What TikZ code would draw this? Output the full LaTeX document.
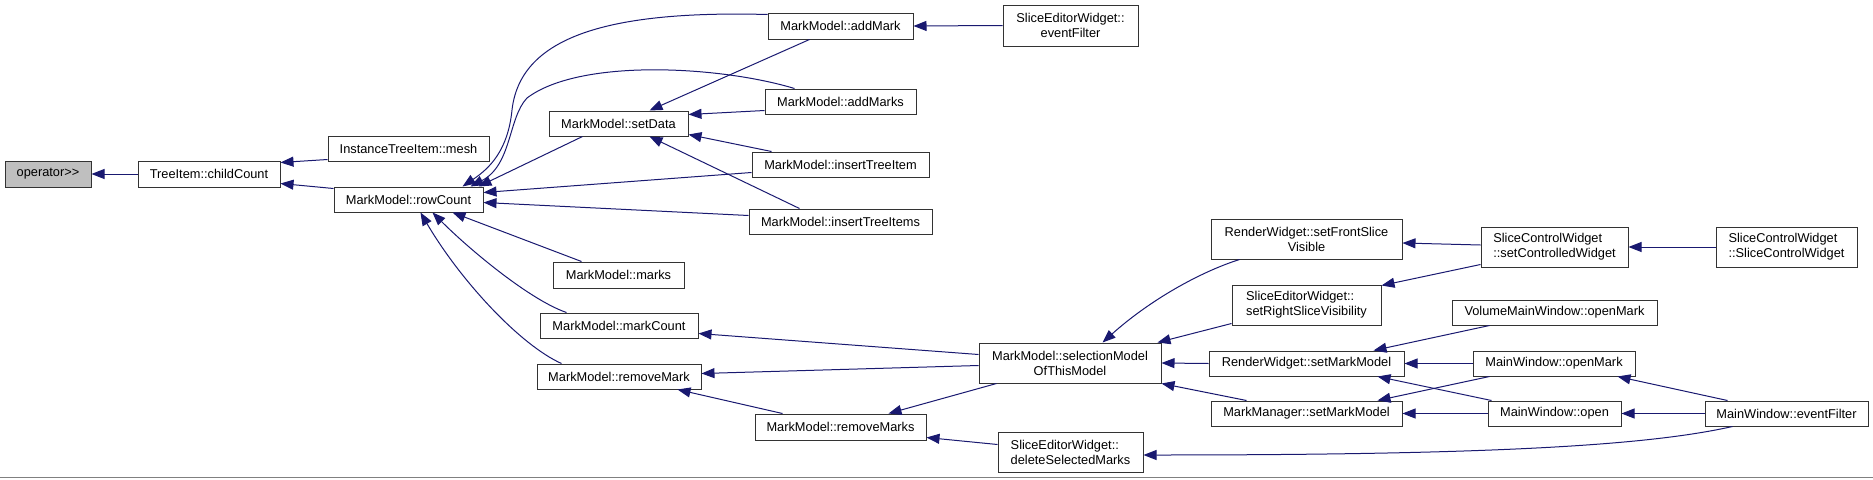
\documentclass[tikz,border=0pt]{standalone}
\usepackage{fontspec}
\setmainfont{Liberation Sans}
\usetikzlibrary{arrows.meta,calc}
\definecolor{midnight}{HTML}{191970}
\definecolor{opfill}{HTML}{BFBFBF}
\tikzset{
  box/.style={draw=black!80, line width=1pt, fill=white, inner sep=0pt, font=\fontsize{12.8}{15}\selectfont, text=black},
  conn/.style={draw=midnight, line width=1pt, -{Triangle[length=13pt,width=10pt]}, fill=none}
}
\begin{document}
\begin{tikzpicture}[x=1pt,y=-1pt]
\useasboundingbox (0,0) rectangle (1873,479);
% nodes
\node[box, fill=opfill, minimum width=86pt, minimum height=26pt] (op) at (48,174) {operator>{}>};
\node[box, minimum width=142pt, minimum height=26pt] (child) at (209,174) {TreeItem::childCount};
\node[box, minimum width=161pt, minimum height=25pt] (mesh) at (408.5,148.5) {InstanceTreeItem::mesh};
\node[box, minimum width=149pt, minimum height=25pt] (row) at (408.5,199.5) {MarkModel::rowCount};
\node[box, minimum width=145pt, minimum height=26pt] (addMark) at (840.5,26) {MarkModel::addMark};
\node[box, align=center, minimum width=135pt, minimum height=41pt] (sewEF) at (1070.5,25.5) {SliceEditorWidget::\\eventFilter};
\node[box, minimum width=151pt, minimum height=25pt] (addMarks) at (840.5,101.5) {MarkModel::addMarks};
\node[box, minimum width=139pt, minimum height=25pt] (setData) at (618.5,123.5) {MarkModel::setData};
\node[box, minimum width=177pt, minimum height=25pt] (insItem) at (840.5,164.5) {MarkModel::insertTreeItem};
\node[box, minimum width=183pt, minimum height=25pt] (insItems) at (840.5,221.5) {MarkModel::insertTreeItems};
\node[box, minimum width=131pt, minimum height=26pt] (marks) at (618.5,275) {MarkModel::marks};
\node[box, minimum width=158pt, minimum height=25pt] (markCount) at (619,325.5) {MarkModel::markCount};
\node[box, minimum width=164pt, minimum height=25pt] (removeMark) at (619,376.5) {MarkModel::removeMark};
\node[box, minimum width=171pt, minimum height=26pt] (removeMarks) at (840.5,427) {MarkModel::removeMarks};
\node[box, align=center, minimum width=182pt, minimum height=40pt] (sel) at (1070,363) {MarkModel::selectionModel\\OfThisModel};
\node[box, align=center, minimum width=191pt, minimum height=40pt] (front) at (1306.5,239) {RenderWidget::setFrontSlice\\Visible};
\node[box, align=left, minimum width=149pt, minimum height=40pt] (right) at (1306.5,305) {SliceEditorWidget::\\setRightSliceVisibility};
\node[box, minimum width=195pt, minimum height=25pt] (rwSMM) at (1306.5,363.5) {RenderWidget::setMarkModel};
\node[box, minimum width=191pt, minimum height=25pt] (mmSMM) at (1306.5,413.5) {MarkManager::setMarkModel};
\node[box, align=left, minimum width=145pt, minimum height=40pt] (del) at (1070.5,452) {SliceEditorWidget::\\deleteSelectedMarks};
\node[box, align=left, minimum width=147pt, minimum height=40pt] (ctrl) at (1554.5,247) {SliceControlWidget\\::setControlledWidget};
\node[box, align=left, minimum width=141pt, minimum height=40pt] (scw) at (1786.5,247) {SliceControlWidget\\::SliceControlWidget};
\node[box, minimum width=205pt, minimum height=25pt] (vmwOM) at (1554.5,312.5) {VolumeMainWindow::openMark};
\node[box, minimum width=162pt, minimum height=25pt] (mwOM) at (1554,363.5) {MainWindow::openMark};
\node[box, minimum width=133pt, minimum height=25pt] (mwOpen) at (1554.5,413.5) {MainWindow::open};
\node[box, minimum width=163pt, minimum height=25pt] (mwEF) at (1786.5,413.5) {MainWindow::eventFilter};
% connectors
\draw[conn] (child.west) -- (op.east);
\draw[conn] ($(mesh.south west)+(0,-2)$) -- ($(child.north east)+(0,2)$);
\draw[conn] ($(row.north west)+(0,2)$) -- ($(child.south east)+(0,-4)$);
\draw[conn] ($(addMark.north west)+(0,2)$) .. controls (600,10) and (520,40) .. (512,110) .. controls (508,150) and (490,168) .. ($(row.north east)+(-21,0)$);
\draw[conn] ($(addMarks.north west)+(30,0)$) .. controls (720,66) and (580,58) .. (527,98) .. controls (508,118) and (512,165) .. ($(row.north east)+(-13,0)$);
\draw[conn] ($(setData.south west)+(34,0)$) -- ($(row.north east)+(-5,0)$);
\draw[conn] ($(insItem.south west)+(0,-5)$) -- ($(row.north east)+(0,6)$);
\draw[conn] ($(insItems.north west)+(0,7)$) -- ($(row.south east)+(0,-10)$);
\draw[conn] ($(marks.north west)+(29,0)$) -- ($(row.south east)+(-31,0)$);
\draw[conn] ($(markCount.north west)+(27,0)$) .. controls (530,300) and (470,250) .. ($(row.south east)+(-51,0)$);
\draw[conn] ($(removeMark.north west)+(25,0)$) .. controls (520,345) and (460,280) .. ($(row.south east)+(-63,0)$);
\draw[conn] ($(addMark.south west)+(42,0)$) -- ($(setData.north west)+(101,0)$);
\draw[conn] ($(addMarks.south west)+(0,-4)$) -- ($(setData.north east)+(0,4)$);
\draw[conn] ($(insItem.north west)+(20,0)$) -- ($(setData.south east)+(0,-2)$);
\draw[conn] ($(insItems.north west)+(51,0)$) -- ($(setData.south west)+(101,0)$);
\draw[conn] (sewEF.west) -- (addMark.east);
\draw[conn] ($(sel.north west)+(0,12)$) -- ($(markCount.south east)+(0,-5)$);
\draw[conn] ($(sel.north west)+(0,23)$) -- ($(removeMark.north east)+(0,10)$);
\draw[conn] ($(sel.south west)+(18,0)$) -- ($(removeMarks.north east)+(-38,0)$);
\draw[conn] ($(removeMarks.north west)+(28,0)$) -- ($(removeMark.south east)+(-24,0)$);
\draw[conn] ($(del.north west)+(0,13)$) -- ($(removeMarks.south east)+(0,-3)$);
\draw[conn] ($(front.south west)+(29,0)$) .. controls (1200,272) and (1150,300) .. ($(sel.north west)+(124,0)$);
\draw[conn] ($(right.south west)+(0,-2)$) -- ($(sel.north east)+(-4,0)$);
\draw[conn] (rwSMM.west) -- (sel.east);
\draw[conn] ($(mmSMM.north west)+(36,0)$) -- (sel.south east);
\draw[conn] ($(ctrl.west)+(0,-2)$) -- ($(front.east)+(0,4)$);
\draw[conn] ($(ctrl.south west)+(0,-3)$) -- ($(right.north east)+(0,1)$);
\draw[conn] (scw.west) -- (ctrl.east);
\draw[conn] ($(vmwOM.south west)+(38,0)$) -- ($(rwSMM.north east)+(-31,0)$);
\draw[conn] (mwOM.west) -- (rwSMM.east);
\draw[conn] ($(mwOpen.north west)+(4,0)$) -- ($(rwSMM.south east)+(-27,0)$);
\draw[conn] ($(mwOM.south west)+(17,0)$) -- ($(mmSMM.north east)+(-25,0)$);
\draw[conn] (mwOpen.west) -- (mmSMM.east);
\draw[conn] (mwEF.west) -- (mwOpen.east);
\draw[conn] ($(mwEF.north west)+(23,0)$) -- ($(mwOM.south east)+(-18,0)$);
\draw[conn] ($(mwEF.south west)+(28,0)$) .. controls (1650,445) and (1500,455) .. ($(del.east)+(0,3)$);
% bottom rule
\draw[line width=1.5pt, draw=black!50] (0,477.5) -- (1873,477.5);
\end{tikzpicture}
\end{document}
